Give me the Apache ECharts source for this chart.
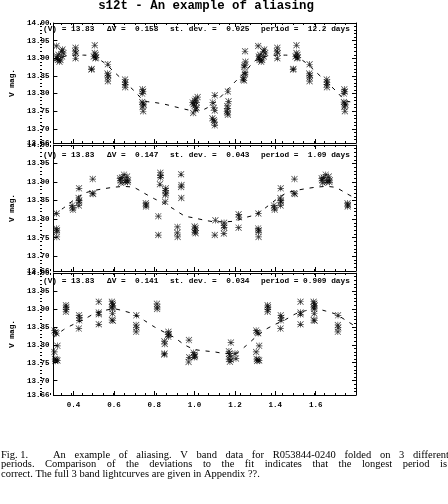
<!DOCTYPE html>
<html>
<head>
<meta charset="utf-8">
<title>s12t - An example of aliasing</title>
<script src="https://cdn.jsdelivr.net/npm/echarts@6.0.0/dist/echarts.min.js"></script>
<style>
    html, body { margin: 0; padding: 0; background: #fff; }
    #main { width: 448px; height: 504px; }
</style>
</head>
<body>
<div id="main"></div>
<script type="text/javascript">
    // tick values and labels
    var xTickValues = [0.4, 0.6, 0.8, 1.0, 1.2, 1.4, 1.6];
    var xTickLabels = ['0.4', '0.6', '0.8', '1.0', '1.2', '1.4', '1.6'];
    var yTickValues = [13.66, 13.70, 13.75, 13.80, 13.85, 13.90, 13.95, 14.00];
    var yTickLabels = ['13.66', '13.70', '13.75', '13.80', '13.85', '13.90', '13.95', '14.00'];

    // header of each panel
    var noteMean = ['(V) = 13.83', '(V) = 13.83', '(V) = 13.83'];
    var noteDeltaV = ['\u0394V =  0.158', '\u0394V =  0.147', '\u0394V =  0.141'];
    var noteStDev = ['st. dev. =  0.025', 'st. dev. =  0.043', 'st. dev. =  0.034'];
    var notePeriod = ['period =  12.2 days', 'period =  1.09 days', 'period = 0.909 days'];

    // panel 1 : period 12.2 days
    var p1Phase = [
        0.315, 0.318, 0.320, 0.322, 0.325, 0.330, 0.335, 0.340, 0.345, 0.350, 0.343,
        0.410, 0.408, 0.412, 0.410,
        0.488, 0.490, 0.505, 0.505, 0.510, 0.500, 0.508, 0.512,
        0.570, 0.568, 0.572, 0.570, 0.570,
        0.655, 0.657, 0.655, 0.656,
        0.742, 0.745, 0.740, 0.740, 0.745, 0.748, 0.742, 0.745,
        0.990, 0.995, 1.000, 1.000, 1.005, 1.010, 1.010, 1.015, 0.993, 1.005,
        1.100, 1.090, 1.095, 1.100, 1.088, 1.095, 1.098, 1.100,
        1.165, 1.168, 1.162, 1.165, 1.160, 1.163, 1.165,
        1.250, 1.252, 1.248, 1.245, 1.250, 1.250, 1.243, 1.240, 1.245,
        1.315, 1.318, 1.320, 1.322, 1.325, 1.330, 1.335, 1.340, 1.345, 1.350, 1.343,
        1.410, 1.408, 1.412, 1.410,
        1.488, 1.490, 1.505, 1.505, 1.510, 1.500, 1.508, 1.512,
        1.570, 1.568, 1.572, 1.570, 1.570,
        1.655, 1.657, 1.655, 1.656,
        1.742, 1.745, 1.740, 1.740, 1.745, 1.748, 1.742, 1.745
    ];
    var p1Mag = [
        13.935, 13.905, 13.900, 13.895, 13.910, 13.890, 13.895, 13.920, 13.925, 13.915, 13.905,
        13.930, 13.920, 13.915, 13.900,
        13.868, 13.870, 13.937, 13.915, 13.910, 13.905, 13.900, 13.902,
        13.883, 13.857, 13.852, 13.845, 13.835,
        13.840, 13.832, 13.826, 13.818,
        13.812, 13.806, 13.800, 13.776, 13.772, 13.768, 13.762, 13.750,
        13.775, 13.770, 13.780, 13.765, 13.785, 13.775, 13.760, 13.790, 13.745, 13.755,
        13.795, 13.775, 13.760, 13.752, 13.730, 13.725, 13.720, 13.710,
        13.806, 13.778, 13.765, 13.758, 13.750, 13.745, 13.740,
        13.920, 13.890, 13.880, 13.875, 13.860, 13.855, 13.845, 13.840, 13.837,
        13.935, 13.905, 13.900, 13.895, 13.910, 13.890, 13.895, 13.920, 13.925, 13.915, 13.905,
        13.930, 13.920, 13.915, 13.900,
        13.868, 13.870, 13.937, 13.915, 13.910, 13.905, 13.900, 13.902,
        13.883, 13.857, 13.852, 13.845, 13.835,
        13.840, 13.832, 13.826, 13.818,
        13.812, 13.806, 13.800, 13.776, 13.772, 13.768, 13.762, 13.750
    ];

    // panel 2 : period 1.09 days
    var p2Phase = [
        0.316, 0.315, 0.318, 0.316, 0.317,
        0.393, 0.395, 0.397,
        0.427, 0.425, 0.428, 0.427, 0.426,
        0.495, 0.493, 0.497,
        0.630, 0.632, 0.635, 0.640, 0.650, 0.655, 0.660, 0.665, 0.670, 0.668,
        0.758, 0.760, 0.759,
        0.820, 0.820,
        0.830, 0.832, 0.830, 0.828,
        0.857, 0.855, 0.858, 0.855, 0.854,
        0.915, 0.914, 0.916,
        0.933, 0.935, 0.933, 0.934,
        1.000, 1.005, 1.003, 1.000, 1.005,
        1.103, 1.100,
        1.146, 1.145, 1.147, 1.145,
        1.218, 1.220, 1.218,
        1.316, 1.315, 1.318, 1.316, 1.317,
        1.393, 1.395, 1.397,
        1.427, 1.425, 1.428, 1.427, 1.426,
        1.495, 1.493, 1.497,
        1.630, 1.632, 1.635, 1.640, 1.650, 1.655, 1.660, 1.665, 1.670, 1.668,
        1.758, 1.760, 1.759
    ];
    var p2Mag = [
        13.815, 13.775, 13.770, 13.765, 13.752,
        13.837, 13.830, 13.825,
        13.883, 13.857, 13.850, 13.846, 13.837,
        13.908, 13.870, 13.868,
        13.910, 13.905, 13.898, 13.912, 13.920, 13.900, 13.905, 13.915, 13.905, 13.900,
        13.843, 13.838, 13.834,
        13.808, 13.757,
        13.925, 13.918, 13.912, 13.894,
        13.883, 13.877, 13.870, 13.865, 13.847,
        13.779, 13.763, 13.752,
        13.921, 13.892, 13.887, 13.857,
        13.780, 13.776, 13.770, 13.765, 13.762,
        13.797, 13.757,
        13.790, 13.782, 13.777, 13.761,
        13.813, 13.805, 13.777,
        13.815, 13.775, 13.770, 13.765, 13.752,
        13.837, 13.830, 13.825,
        13.883, 13.857, 13.850, 13.846, 13.837,
        13.908, 13.870, 13.868,
        13.910, 13.905, 13.898, 13.912, 13.920, 13.900, 13.905, 13.915, 13.905, 13.900,
        13.843, 13.838, 13.834
    ];

    // panel 3 : period 0.909 days
    var p3Phase = [
        0.305, 0.310, 0.315, 0.305, 0.308, 0.310, 0.315, 0.320, 0.320,
        0.362, 0.364, 0.363, 0.362,
        0.427, 0.430, 0.428, 0.426,
        0.525, 0.525, 0.525, 0.525,
        0.590, 0.593, 0.595, 0.590, 0.593, 0.593, 0.590, 0.595,
        0.711, 0.710, 0.712, 0.710,
        0.813, 0.815, 0.814,
        0.850, 0.852, 0.851, 0.849,
        0.870, 0.872, 0.870, 0.868,
        0.972, 0.973, 0.970,
        0.995, 1.000, 1.002, 0.998,
        1.170, 1.172, 1.175, 1.170, 1.175, 1.180, 1.180,
        1.200, 1.205,
        1.305, 1.310, 1.315, 1.305, 1.308, 1.310, 1.315, 1.320, 1.320,
        1.362, 1.364, 1.363, 1.362,
        1.427, 1.430, 1.428, 1.426,
        1.525, 1.525, 1.525, 1.525,
        1.590, 1.593, 1.595, 1.590, 1.593, 1.593, 1.590, 1.595,
        1.711, 1.710, 1.712, 1.710
    ];
    var p3Mag = [
        13.840, 13.835, 13.832, 13.780, 13.760, 13.755, 13.758, 13.797, 13.756,
        13.910, 13.905, 13.898, 13.892,
        13.882, 13.875, 13.868, 13.845,
        13.920, 13.890, 13.885, 13.857,
        13.920, 13.915, 13.910, 13.905, 13.900, 13.887, 13.869, 13.867,
        13.882, 13.855, 13.848, 13.836,
        13.914, 13.905, 13.900,
        13.810, 13.802, 13.776, 13.773,
        13.836, 13.830, 13.822, 13.828,
        13.813, 13.765, 13.752,
        13.778, 13.772, 13.768, 13.765,
        13.782, 13.775, 13.770, 13.760, 13.753, 13.806, 13.758,
        13.776, 13.762,
        13.840, 13.835, 13.832, 13.780, 13.760, 13.755, 13.758, 13.797, 13.756,
        13.910, 13.905, 13.898, 13.892,
        13.882, 13.875, 13.868, 13.845,
        13.920, 13.890, 13.885, 13.857,
        13.920, 13.915, 13.910, 13.905, 13.900, 13.887, 13.869, 13.867,
        13.882, 13.855, 13.848, 13.836
    ];

    // fitted curves (dashed)
    var fitPhase = [0.30, 0.35, 0.40, 0.45, 0.50, 0.55, 0.60, 0.65, 0.70, 0.75, 0.80,
        0.85, 0.90, 0.95, 1.00, 1.05, 1.10, 1.15, 1.20, 1.25, 1.30,
        1.35, 1.40, 1.45, 1.50, 1.55, 1.60, 1.65, 1.70, 1.75, 1.80];
    var fit1 = [13.893, 13.905, 13.909, 13.909, 13.905, 13.888, 13.862, 13.835, 13.808, 13.780, 13.775,
        13.770, 13.763, 13.756, 13.751, 13.756, 13.775, 13.803, 13.833, 13.862, 13.893,
        13.905, 13.909, 13.909, 13.905, 13.888, 13.862, 13.835, 13.808, 13.780, 13.775];
    var fit2 = [13.812, 13.830, 13.851, 13.869, 13.877, 13.882, 13.886, 13.888, 13.885, 13.870, 13.855,
        13.842, 13.826, 13.809, 13.803, 13.797, 13.793, 13.793, 13.795, 13.804, 13.812,
        13.830, 13.851, 13.869, 13.877, 13.882, 13.886, 13.888, 13.885, 13.870, 13.855];
    var fit3 = [13.820, 13.842, 13.857, 13.870, 13.886, 13.895, 13.900, 13.894, 13.885, 13.868, 13.850,
        13.835, 13.820, 13.800, 13.787, 13.783, 13.780, 13.776, 13.776, 13.795, 13.820,
        13.842, 13.857, 13.870, 13.886, 13.895, 13.900, 13.894, 13.885, 13.868, 13.850];

    var monoFont = 'Liberation Mono';
    var serifFont = 'Liberation Serif';
    // asterisk marker (thin strokes)
    var starPath = 'path://M9,0h2v20h-2z M0,9h20v2h-20z M0,1.4L1.4,0L20,18.6L18.6,20z M18.6,0L20,1.4L1.4,20L0,18.6z';

    var layout = [
        {top: 23, height: 120, noteY: 29},
        {top: 145, height: 126, noteY: 155},
        {top: 273, height: 122, noteY: 281}
    ];
    var phases = [p1Phase, p2Phase, p3Phase];
    var mags = [p1Mag, p2Mag, p3Mag];
    var fits = [fit1, fit2, fit3];

    function zip(a, b) {
        var out = [];
        for (var k = 0; k < a.length; k++) out.push([a[k], b[k]]);
        return out;
    }
    function lookup(values, labels, v) {
        for (var k = 0; k < values.length; k++) {
            if (Math.abs(values[k] - v) < 1e-6) return labels[k];
        }
        return '';
    }

    var labelStyle = {color: '#000', fontFamily: monoFont, fontWeight: 'bold', fontSize: 7.5};

    function xMajor(gridIndex, pos, showLabel) {
        return {
            gridIndex: gridIndex, type: 'value', position: pos, min: 0.3, max: 1.8,
            axisLine: {show: true, onZero: false, lineStyle: {color: '#000', width: 1}},
            axisTick: {show: true, inside: true, length: 4, customValues: xTickValues, lineStyle: {color: '#000', width: 1}},
            axisLabel: Object.assign({
                show: showLabel, customValues: xTickValues, margin: 6,
                formatter: function (v) { return lookup(xTickValues, xTickLabels, v); }
            }, labelStyle),
            splitLine: {show: false}
        };
    }
    function xMinor(gridIndex, pos) {
        return {
            gridIndex: gridIndex, type: 'value', position: pos, min: 0.3, max: 1.8, interval: 0.05,
            axisLine: {show: false, onZero: false},
            axisTick: {show: true, inside: true, length: 2, lineStyle: {color: '#000', width: 1}},
            axisLabel: {show: false},
            splitLine: {show: false}
        };
    }
    function yMajor(gridIndex, pos, showLabel) {
        var ax = {
            gridIndex: gridIndex, type: 'value', position: pos, min: 13.66, max: 14.0,
            axisLine: {show: true, onZero: false, lineStyle: {color: '#000', width: 1}},
            axisTick: {show: true, inside: true, length: 4, customValues: yTickValues, lineStyle: {color: '#000', width: 1}},
            axisLabel: Object.assign({
                show: showLabel, customValues: yTickValues, margin: 4,
                formatter: function (v) { return lookup(yTickValues, yTickLabels, v); }
            }, labelStyle),
            splitLine: {show: false}
        };
        if (showLabel) {
            ax.name = 'V mag.';
            ax.nameLocation = 'middle';
            ax.nameGap = 34;
            ax.nameRotate = 90;
            ax.nameTextStyle = {color: '#000', fontFamily: monoFont, fontWeight: 'bold', fontSize: 7.8};
        }
        return ax;
    }
    function yMinor(gridIndex, pos) {
        return {
            gridIndex: gridIndex, type: 'value', position: pos, min: 13.66, max: 14.0, interval: 0.01,
            axisLine: {show: false, onZero: false},
            axisTick: {show: true, inside: true, length: 2, lineStyle: {color: '#000', width: 1}},
            axisLabel: {show: false},
            splitLine: {show: false}
        };
    }

    var grids = [], xAxes = [], yAxes = [], series = [], graphics = [];
    function monoText(x, y, text, size, align) {
        graphics.push({
            type: 'text', x: x, y: y, silent: true,
            style: {text: text, fill: '#000', fontFamily: monoFont, fontWeight: 'bold', fontSize: size,
                    align: align || 'left', verticalAlign: 'middle'}
        });
    }

    for (var i = 0; i < 3; i++) {
        var g = {left: 40, width: 316, top: layout[i].top, height: layout[i].height};
        grids.push(g, Object.assign({}, g));
        xAxes.push(xMajor(2 * i, 'bottom', i === 2), xMajor(2 * i, 'top', false),
                   xMinor(2 * i + 1, 'bottom'), xMinor(2 * i + 1, 'top'));
        yAxes.push(yMajor(2 * i, 'left', true), yMajor(2 * i, 'right', false),
                   yMinor(2 * i + 1, 'left'), yMinor(2 * i + 1, 'right'));
        series.push({
            type: 'scatter', xAxisIndex: 4 * i, yAxisIndex: 4 * i,
            data: zip(phases[i], mags[i]),
            symbol: starPath, symbolSize: 6.5,
            itemStyle: {color: '#000'}, silent: true
        });
        series.push({
            type: 'line', xAxisIndex: 4 * i, yAxisIndex: 4 * i,
            data: zip(fitPhase, fits[i]),
            showSymbol: false, symbol: 'none', smooth: 0.3, silent: true,
            lineStyle: {color: '#000', width: 1, type: [4, 6]}
        });
        var ny = layout[i].noteY;
        monoText(43, ny, noteMean[i], 7.8);
        monoText(107, ny, noteDeltaV[i], 7.8);
        monoText(170, ny, noteStDev[i], 7.8);
        monoText(261, ny, notePeriod[i], 7.8);
    }

    monoText(206, 6, 's12t - An example of aliasing', 12.4, 'center');

    // caption below the plot
    var captionSize = 10.5;
    var measureCtx = document.createElement('canvas').getContext('2d');
    function serifText(x, y, text) {
        graphics.push({
            type: 'text', x: x, y: y, silent: true,
            style: {text: text, fill: '#000', fontFamily: serifFont, fontSize: captionSize, verticalAlign: 'middle'}
        });
    }
    function justifyLine(text, x0, x1, y) {
        var words = text.split(/\s+/);
        measureCtx.font = captionSize + 'px "' + serifFont + '"';
        var widths = words.map(function (w) { return measureCtx.measureText(w).width; });
        var total = widths.reduce(function (a, b) { return a + b; }, 0);
        var gap = (x1 - x0 - total) / (words.length - 1);
        var x = x0;
        for (var k = 0; k < words.length; k++) {
            serifText(x, y, words[k]);
            x += widths[k] + gap;
        }
    }
    serifText(1, 455, 'Fig. 1.');
    justifyLine('An example of aliasing.  V band data for R053844-0240 folded on 3 different', 53, 449, 455);
    justifyLine('periods.  Comparison of the deviations to the fit indicates that the longest period is', 1, 447, 464.5);
    serifText(1, 474, 'correct. The full 3 band lightcurves are given in Appendix ??.');

    var myChart = echarts.init(document.getElementById('main'));
    myChart.setOption({
        animation: false,
        backgroundColor: '#fff',
        grid: grids,
        xAxis: xAxes,
        yAxis: yAxes,
        series: series,
        graphic: graphics
    });
</script>
</body>
</html>
